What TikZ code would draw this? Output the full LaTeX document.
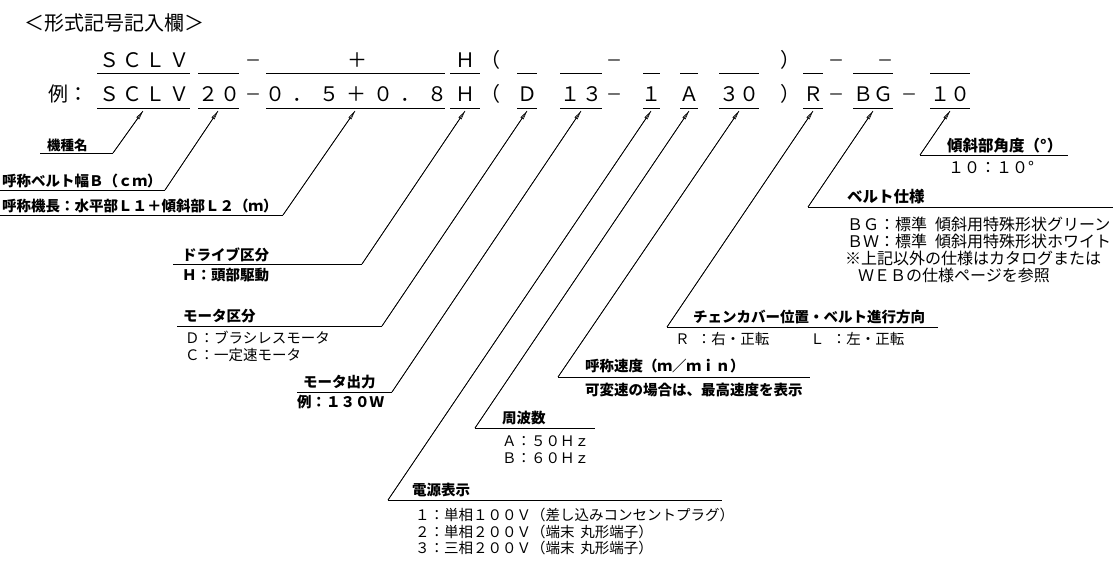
\documentclass[tikz,border=0pt]{standalone}
\usepackage{fontspec}
\setmainfont{Noto Sans CJK JP}
\usetikzlibrary{arrows.meta}
\newcommand{\spr}[2]{\makebox[#1pt][s]{#2}}
\begin{document}
\begin{tikzpicture}[x=1pt,y=-1pt,
  rowl/.style={inner sep=0pt, font=\fontsize{20}{24}\selectfont, anchor=base west},
  rowc/.style={inner sep=0pt, font=\fontsize{20}{24}\selectfont, anchor=base},
  dsh/.style={inner sep=0pt, font=\fontsize{16}{20}\selectfont, anchor=base},
  ttl/.style={inner sep=0pt, font=\fontsize{20}{24}\selectfont, anchor=west},
  lab/.style={inner sep=0pt, font=\fontsize{14.5}{17}\selectfont, anchor=west},
  labb/.style={inner sep=0pt, font=\fontsize{14.5}{17}\selectfont\bfseries, anchor=west},
  labr/.style={inner sep=0pt, font=\fontsize{16}{19}\selectfont, anchor=west},
  labrb/.style={inner sep=0pt, font=\fontsize{15.5}{19}\selectfont\bfseries, anchor=west},
  ul/.style={line width=0.8pt},
  lead/.style={line width=0.7pt, -{Triangle[open,length=9pt,width=3.4pt,line width=0.6pt]}},
  hatch/.style={line width=0.6pt}]
\useasboundingbox (0,0) rectangle (1113,562);

% title
\node[ttl] (title) at (24,23) {＜形式記号記入欄＞};

% ---- row 1 (template)
\node[rowl] (a1) at (99,67) {\spr{90}{Ｓ\hfill Ｃ\hfill Ｌ\hfill Ｖ}};
\node[dsh] (a2) at (253,66) {－};
\node[rowc] (a3) at (357,67) {＋};
\node[rowc] (a4) at (465,67) {Ｈ};
\node[rowc] (a5) at (490,67) {（};
\node[dsh] (a6) at (614,66) {－};
\node[rowc] (a7) at (790,67) {）};
\node[dsh] (a8) at (836,66) {－};
\node[dsh] (a9) at (885,66) {－};
\foreach \xa/\xb in {97/190,198/239,266/445,450/480,517/537,560/602,643/660,680/698,719/759,803/823,853/893,930/970}
  {\draw[ul] (\xa,73) -- (\xb,73);}

% ---- row 2 (example)
\node[rowl] (b0) at (48,101) {例：};
\node[rowl] (b1) at (99,101) {\spr{90}{Ｓ\hfill Ｃ\hfill Ｌ\hfill Ｖ}};
\node[rowl] (b2) at (198,101) {\spr{42}{２\hfill ０}};
\node[dsh] (b3) at (253,100) {－};
\node[rowl] (b4) at (265,101) {\spr{182}{０\hfill ．\hfill ５\hfill ＋\hfill ０\hfill ．\hfill ８}};
\node[rowc] (b5) at (465,101) {Ｈ};
\node[rowc] (b6) at (490,101) {（};
\node[rowc] (b7) at (527,101) {Ｄ};
\node[rowl] (b8) at (560,101) {\spr{42}{１\hfill ３}};
\node[dsh] (b9) at (614,100) {－};
\node[rowc] (b10) at (651,101) {１};
\node[rowc] (b11) at (689,101) {Ａ};
\node[rowl] (b12) at (719,101) {\spr{40}{３\hfill ０}};
\node[rowc] (b13) at (790,101) {）};
\node[rowc] (b14) at (813,101) {Ｒ};
\node[dsh] (b15) at (836,100) {－};
\node[rowl] (b16) at (853,101) {\spr{40}{Ｂ\hfill Ｇ}};
\node[dsh] (b17) at (909,100) {－};
\node[rowl] (b18) at (930,101) {\spr{40}{１\hfill ０}};
\foreach \xa/\xb in {97/190,198/239,266/445,450/480,517/537,560/602,643/660,680/698,719/759,803/823,853/893,930/970}
  {\draw[ul] (\xa,108) -- (\xb,108);}

% ---- tips
\coordinate (tSCLV) at (143,111);
\coordinate (tB) at (218,111);
\coordinate (tL) at (355,111);
\coordinate (tH) at (465,111);
\coordinate (tD) at (527,111);
\coordinate (t13) at (581,111);
\coordinate (t1) at (651,111);
\coordinate (tA) at (689,111);
\coordinate (t30) at (739,111);
\coordinate (tR) at (813,111);
\coordinate (tBG) at (873,111);
\coordinate (t10) at (950,111);

% ---- labels (left side: leader from right end)
\node[labb,font=\fontsize{13.5}{16}\selectfont\bfseries] (kishu) at (47,145) {機種名};
\coordinate (kishuL) at (40,153); \coordinate (kishuR) at (113,153);

\node[labb] (haba) at (2,181) {呼称ベルト幅Ｂ（ｃｍ）};
\coordinate (habaL) at (0,190); \coordinate (habaR) at (165,190);

\node[labb] (kicho) at (2,206) {呼称機長：水平部Ｌ１＋傾斜部Ｌ２（ｍ）};
\coordinate (kichoL) at (0,215); \coordinate (kichoR) at (283,215);

\node[labb] (drive) at (182,255) {ドライブ区分};
\node[labb] (drive1) at (182,275) {Ｈ：頭部駆動};
\coordinate (driveL) at (173,264); \coordinate (driveR) at (362,264);

\node[labb] (motor) at (183,316) {モータ区分};
\node[lab] (motor1) at (185,338) {Ｄ：ブラシレスモータ};
\node[lab] (motor2) at (185,355) {Ｃ：一定速モータ};
\coordinate (motorL) at (177,326); \coordinate (motorR) at (382,326);

\node[labb] (power) at (303,382) {モータ出力};
\node[labb] (power1) at (297,402) {例：１３０Ｗ};
\coordinate (powerL) at (297,392); \coordinate (powerR) at (392,392);

% ---- labels (leader from left end)
\node[labb] (freq) at (502,418) {周波数};
\node[lab] (freq1) at (502,441) {Ａ：５０Ｈｚ};
\node[lab] (freq2) at (502,458) {Ｂ：６０Ｈｚ};
\coordinate (freqL) at (475,428); \coordinate (freqR) at (595,428);

\node[labb] (src) at (412,490) {電源表示};
\node[lab] (src1) at (415,515) {１：単相１００Ｖ（差し込みコンセントプラグ）};
\node[lab] (src2) at (415,532) {２：単相２００Ｖ（端末\hspace{0.4em}丸形端子）};
\node[lab] (src3) at (415,548) {３：三相２００Ｖ（端末\hspace{0.4em}丸形端子）};
\coordinate (srcL) at (388,500); \coordinate (srcR) at (722,500);

\node[labb] (speed) at (585,366) {呼称速度（ｍ／ｍｉｎ）};
\node[labb] (speed1) at (585,390) {可変速の場合は、最高速度を表示};
\coordinate (speedL) at (558,377); \coordinate (speedR) at (810,377);

\node[labb] (chain) at (693,317) {チェンカバー位置・ベルト進行方向};
\node[lab] (chain1) at (675,339) {Ｒ\hspace{0.5em}：右・正転\hspace{2.8em}Ｌ\hspace{0.5em}：左・正転};
\coordinate (chainL) at (667,327); \coordinate (chainR) at (938,327);

\node[labrb] (belt) at (847,197) {ベルト仕様};
\node[labr] (belt1) at (847,224) {ＢＧ：標準\hspace{0.5em}傾斜用特殊形状グリーン};
\node[labr] (belt2) at (847,241) {ＢＷ：標準\hspace{0.5em}傾斜用特殊形状ホワイト};
\node[labr] (belt3) at (845,258) {※上記以外の仕様はカタログまたは};
\node[labr] (belt4) at (858,275) {ＷＥＢの仕様ページを参照};
\coordinate (beltL) at (808,207); \coordinate (beltR) at (1113,207);

\node[labrb] (angle) at (947,146) {傾斜部角度（°）};
\node[labr] (angle1) at (948,167) {１０：１０°};
\coordinate (angleL) at (920,155); \coordinate (angleR) at (1068,155);

% ---- underlines + leaders
\foreach \n/\t in {kishu/tSCLV, haba/tB, kicho/tL, drive/tH, motor/tD, power/t13}{
  \draw[ul] (\n L) -- (\n R);
  \draw[hatch] (\n R) -- (\t);
  \draw[lead] (\n R) -- (\t);
}
\foreach \n/\t in {freq/tA, src/t1, speed/t30, chain/tR, belt/tBG, angle/t10}{
  \draw[ul] (\n L) -- (\n R);
  \draw[hatch] (\n L) -- (\t);
  \draw[lead] (\n L) -- (\t);
}
\end{tikzpicture}
\end{document}
